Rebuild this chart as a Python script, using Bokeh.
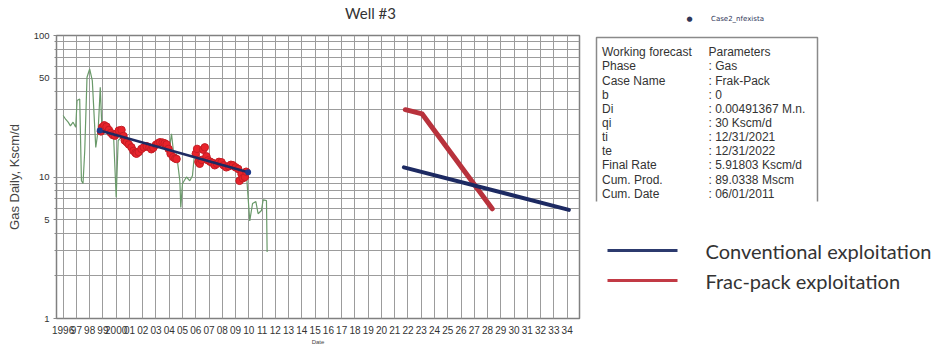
from bokeh.plotting import figure
from bokeh.models import FixedTicker, Range1d, ColumnDataSource, LinearAxis
from bokeh.layouts import row
from bokeh.embed import file_html
from bokeh.resources import INLINE

# ---------------- data ----------------
title_text = "Well #3"
years = list(range(1996, 2035))
year_labels = ["1996", "97", "98", "99", "2000"] + ["%02d" % (y % 100) for y in range(2001, 2035)]

y_ticks = [1, 5, 10, 50, 100]
y_minor = [2, 3, 4, 6, 7, 8, 9, 20, 30, 40, 60, 70, 80, 90]

hist_t = [1996.0, 1996.2, 1996.38, 1996.55, 1996.75, 1996.95, 1997.05, 1997.25, 1997.38, 1997.5,
          1997.63, 1997.8, 1998.0, 1998.2, 1998.46, 1998.64, 1998.8, 1998.94, 1999.2, 1999.5,
          1999.8, 2000.0, 2000.15, 2000.5, 2000.9, 2001.3, 2001.7, 2002.1, 2002.6, 2003.1,
          2003.6, 2004.0, 2004.17, 2004.35, 2004.55, 2004.8, 2004.87, 2005.0, 2005.3, 2005.55,
          2005.75, 2005.93, 2006.3, 2006.8, 2007.3, 2007.8, 2008.3, 2008.8, 2009.3, 2009.82,
          2010.07, 2010.28, 2010.53, 2010.7, 2010.95, 2011.08, 2011.33, 2011.38]
hist_q = [27.2, 25.5, 24.4, 23.0, 24.4, 22.5, 34.7, 35.6, 9.4, 9.0,
          15.4, 50.7, 58.0, 48.0, 16.2, 21.3, 43.0, 20.2, 21.5, 21.0,
          19.8, 7.2, 18.1, 19.5, 17.5, 15.5, 15.0, 16.0, 15.8, 16.5,
          16.8, 15.5, 20.2, 14.2, 14.6, 9.4, 6.1, 9.0, 10.0, 9.4,
          10.2, 15.4, 14.0, 13.5, 12.5, 12.3, 12.0, 11.6, 10.8, 10.5,
          4.9, 6.5, 6.7, 5.5, 5.8, 6.9, 6.8, 2.95]

pts_t = [1998.85, 1998.95, 1999.1, 1999.27, 1999.45, 1999.6, 1999.75, 1999.9, 2000.05, 2000.2,
         2000.4, 2000.55, 2000.65, 2000.8, 2000.95, 2001.15, 2001.3, 2001.45, 2001.53, 2001.7,
         2001.9, 2002.08, 2002.3, 2002.5, 2002.65, 2002.8, 2003.0, 2003.15, 2003.3, 2003.5,
         2003.65, 2003.8, 2003.95, 2004.1, 2004.3, 2004.45, 2004.55, 2006.0, 2006.1, 2006.2,
         2006.3, 2006.45, 2006.55, 2006.68, 2006.8, 2006.93, 2007.1, 2007.25, 2007.43, 2007.6,
         2007.75, 2007.94, 2008.1, 2008.3, 2008.5, 2008.65, 2008.8, 2009.0, 2009.2, 2009.3,
         2009.45, 2009.55, 2009.7, 2009.8]
pts_q = [21.0, 22.5, 23.2, 22.7, 21.5, 20.5, 19.8, 19.6, 20.3, 21.3,
         21.5, 19.5, 18.1, 17.6, 17.0, 16.2, 15.3, 14.8, 14.6, 15.0,
         15.8, 16.2, 16.5, 16.2, 15.7, 16.1, 16.9, 17.3, 17.6, 17.5,
         17.3, 17.0, 15.8, 14.6, 13.8, 13.5, 13.4, 14.6, 15.8, 12.8,
         12.4, 13.2, 15.6, 16.2, 14.0, 13.1, 12.8, 12.6, 12.1, 12.4,
         12.8, 12.7, 12.1, 11.7, 11.9, 12.2, 12.1, 11.7, 11.4, 9.4,
         10.5, 9.8, 10.0, 10.9]

fit_t = [1998.76, 2009.95]
fit_q = [21.3, 10.8]

conv_t = [2021.69, 2034.13]
conv_q = [11.7, 5.86]

frac_t = [2021.8, 2023.07, 2028.35]
frac_q = [29.9, 27.9, 5.96]

series_key = "Case2_nfexista"
info_labels = ["Working forecast", "Phase", "Case Name", "b", "Di", "qi", "ti", "te",
               "Final Rate", "Cum. Prod.", "Cum. Date"]
info_values = ["Parameters", ": Gas", ": Frak-Pack", ": 0", ": 0.00491367 M.n.", ": 30 Kscm/d",
               ": 12/31/2021", ": 12/31/2022", ": 5.91803 Kscm/d", ": 89.0338 Mscm", ": 06/01/2011"]

legend_labels = ["Conventional exploitation", "Frac-pack exploitation"]
legend_colors = ["#2c3a6e", "#c23a45"]

# ---------------- main chart ----------------
NAVY = "#1d2a62"
FRAC = "#b8323c"

p = figure(width=590, height=348, x_range=Range1d(1995.5, 2034.93), y_range=Range1d(1, 100),
           y_axis_type="log", output_backend="svg", toolbar_location=None,
           min_border_left=56, min_border_right=11, min_border_top=35, min_border_bottom=30)
p.background_fill_color = "white"
p.outline_line_color = "#808080"
p.outline_line_width = 1.5
p.title.text = ""
p.title.text_font_size = "1px"
p.title.standoff = 0

xa = p.below[0]
xa.ticker = FixedTicker(ticks=years)
xa.major_label_overrides = {y: l for y, l in zip(years, year_labels)}
xa.major_label_text_font = "Liberation Sans"
xa.major_label_text_font_size = "10px"
xa.major_label_text_color = "#333333"
xa.major_label_standoff = 7
xa.major_tick_out = 0
xa.major_tick_in = 0
xa.minor_tick_out = 0
xa.axis_line_color = None
xa.axis_label = "Date"
xa.axis_label_text_font = "Liberation Sans"
xa.axis_label_text_font_size = "6px"
xa.axis_label_text_font_style = "normal"
xa.axis_label_text_color = "#444444"
xa.axis_label_standoff = 2

ya = p.left[0]
ya.ticker = FixedTicker(ticks=y_ticks, minor_ticks=y_minor)
ya.major_label_text_font = "Liberation Sans"
ya.major_label_text_font_size = "9.5px"
ya.major_label_text_color = "#333333"
ya.major_tick_out = 3
ya.major_tick_in = 0
ya.minor_tick_out = 2
ya.minor_tick_in = 0
ya.major_tick_line_color = "#888888"
ya.minor_tick_line_color = "#888888"
ya.major_label_standoff = 4
ya.axis_line_color = None
ya.axis_label = "Gas Daily, Kscm/d"
ya.axis_label_text_font = "Liberation Sans"
ya.axis_label_text_font_size = "13px"
ya.axis_label_text_font_style = "normal"
ya.axis_label_text_color = "#444444"
ya.axis_label_standoff = 9

p.xgrid.ticker = FixedTicker(ticks=years)
p.xgrid.grid_line_color = "#9c9c9c"
p.xgrid.grid_line_width = 1
p.ygrid.ticker = FixedTicker(ticks=sorted(y_ticks + y_minor))
p.ygrid.grid_line_color = "#9c9c9c"
p.ygrid.grid_line_width = 1

# chart title, placed over the frame (pixel scale of the frame width)
p.extra_x_ranges = {"title_px": Range1d(56, 579)}
title_axis = LinearAxis(x_range_name="title_px", ticker=FixedTicker(ticks=[370]),
                        major_label_overrides={370: title_text})
title_axis.axis_line_color = None
title_axis.major_tick_line_color = None
title_axis.minor_tick_line_color = None
title_axis.major_label_text_font = "Lato"
title_axis.major_label_text_font_size = "15px"
title_axis.major_label_text_color = "#333333"
title_axis.major_label_standoff = 8
p.add_layout(title_axis, "above")

p.line(hist_t, hist_q, line_color="#6a9a6a", line_width=1.2)
p.scatter(pts_t, pts_q, marker="circle", size=7.5, fill_color="#e8232b", line_color="#c41d25", line_width=1)
p.line(fit_t, fit_q, line_color=NAVY, line_width=2.5)
p.scatter(fit_t, fit_q, marker="circle", size=6, fill_color="#1f3a8a", line_color=None)
p.line(frac_t, frac_q, line_color=FRAC, line_width=5, line_cap="round", line_join="round")
p.line(conv_t, conv_q, line_color=NAVY, line_width=4, line_cap="round")

# ---------------- side panel (coordinates = page pixels) ----------------
p2 = figure(width=349, height=348, x_range=Range1d(590, 939), y_range=Range1d(318, 35),
            x_axis_type=None, y_axis_type=None, output_backend="svg", toolbar_location=None,
            min_border_left=0, min_border_right=0, min_border_top=35, min_border_bottom=30)
p2.xgrid.visible = False
p2.ygrid.visible = False
p2.outline_line_color = None
p2.title.text = ""
p2.title.text_font_size = "1px"
p2.title.standoff = 0

# small series key on top (a marker and its name, above the frame)
key_axis = LinearAxis(ticker=FixedTicker(ticks=[689, 737]),
                      major_label_overrides={689: "\u25cf", 737: series_key})
key_axis.axis_line_color = None
key_axis.major_tick_line_color = None
key_axis.minor_tick_line_color = None
key_axis.major_label_text_font = "DejaVu Sans"
key_axis.major_label_text_font_size = "7px"
key_axis.major_label_text_color = "#2f3658"
key_axis.major_label_standoff = 7
p2.add_layout(key_axis, "above")

# parameter box
p2.line(x=[596, 596, 817, 817], y=[201, 37, 37, 201], line_color="#8a8a8a", line_width=1.5)
n = len(info_labels)
src = ColumnDataSource(dict(
    lx=[601.5] * n,
    vx=[708] * n,
    y=[51.7 + 14.15 * i for i in range(n)],
    lab=info_labels,
    val=info_values,
))
p2.text(x="lx", y="y", text="lab", source=src, text_font={"value": "Liberation Sans"},
        text_font_size="12px", text_color="#333333", text_baseline="middle")
p2.text(x="vx", y="y", text="val", source=src, text_font={"value": "Liberation Sans"},
        text_font_size="12px", text_color="#333333", text_baseline="middle")

# legend for the forecast lines
lsrc = ColumnDataSource(dict(
    x0=[607, 607], x1=[677, 677], y=[250, 280], tx=[705, 705],
    label=legend_labels, color=legend_colors,
))
p2.segment(x0="x0", x1="x1", y0="y", y1="y", line_color="color", line_width=3, source=lsrc)
p2.text(x="tx", y="y", text="label", source=lsrc, text_font={"value": "Lato"},
        text_font_size="20px", text_color="#333333", text_baseline="middle")

layout = row(p, p2)
open("out.html", "w").write(file_html(layout, INLINE))
